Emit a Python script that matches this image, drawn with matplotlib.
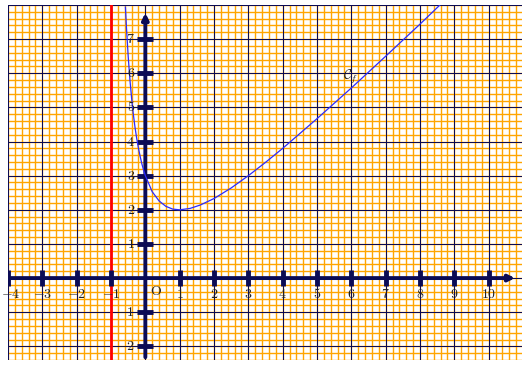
import numpy as np
import matplotlib.pyplot as plt

plt.rcParams['mathtext.fontset'] = 'cm'

# points
curve_x = [-0.58, -0.55, -0.5, -0.45, -0.4, -0.35, -0.3, -0.25, -0.2, -0.15, -0.1, -0.05,
           0, 0.2, 0.4, 0.6, 0.8, 1, 1.3, 1.6, 2, 2.5, 3, 3.5, 4, 5, 6, 7, 8, 8.6]
curve_y = [7.94, 7.34, 6.5, 5.82, 5.27, 4.80, 4.41, 4.08, 3.8, 3.56, 3.34, 3.16,
           3, 2.53, 2.26, 2.1, 2.02, 2, 2.04, 2.14, 2.33, 2.64, 3, 3.39, 3.8, 4.67, 5.57, 6.5, 7.44, 8.02]
asymptote_x = -1
x_ticks = [-4, -3, -2, -1, 1, 2, 3, 4, 5, 6, 7, 8, 9, 10]
y_ticks = [-2, -1, 1, 2, 3, 4, 5, 6, 7]

navy = '#0b0b55'
orange = '#ffa500'

fig = plt.figure(figsize=(5.26, 3.68), dpi=100)
ax = fig.add_axes([8/526, 8/368, 514/526, 355/368])
ax.set_xlim(-4, 10.97)
ax.set_ylim(-2.4, 8)
ax.axis('off')

# graph paper
for v in np.arange(-4, 11.01, 0.2):
    ax.axvline(v, color=orange, lw=1.0, zorder=1)
for v in np.arange(-2.4, 8.01, 0.2):
    ax.axhline(v, color=orange, lw=1.0, zorder=1)
for v in range(-4, 12):
    ax.axvline(v, color=navy, lw=0.72, antialiased=False, zorder=2)
for v in range(-2, 9):
    ax.axhline(v, color=navy, lw=0.72, antialiased=False, zorder=2)

# axes with arrows
ax.annotate('', xy=(10.85, 0), xytext=(-4, 0),
            arrowprops=dict(arrowstyle='-|>', color=navy, lw=2.8, mutation_scale=9), zorder=4)
ax.annotate('', xy=(0, 7.85), xytext=(0, -2.4),
            arrowprops=dict(arrowstyle='-|>', color=navy, lw=2.8, mutation_scale=9), zorder=4)
ax.plot(x_ticks, [0]*len(x_ticks), ls='none', marker='|', ms=11, mew=3.5, color=navy, zorder=4)
ax.plot([0]*len(y_ticks), y_ticks, ls='none', marker='_', ms=11, mew=3.5, color=navy, zorder=4)

# labels
for t in x_ticks:
    xt = t + 0.08 if t == -4 else t
    ax.text(xt, -0.47, '$%d$' % t, ha='center', va='center', fontsize=10, color='#222222', zorder=6)
for t in y_ticks:
    ax.text(-0.3, t, '$%d$' % t, ha='right', va='center', fontsize=10, color='#222222', zorder=6)
ax.text(0.3, -0.38, '$\\mathrm{O}$', ha='center', va='center', fontsize=10, color='#222222', zorder=6)

# asymptote and curve
ax.axvline(asymptote_x, color='red', lw=2, zorder=3)
ax.plot(curve_x, curve_y, color='#2a2aff', lw=0.9, zorder=5)
ax.text(5.97, 5.9, '$\\mathcal{C}_f$', ha='center', va='center', fontsize=10, color='#222222', zorder=6)

fig.savefig('out.png', dpi=100)
